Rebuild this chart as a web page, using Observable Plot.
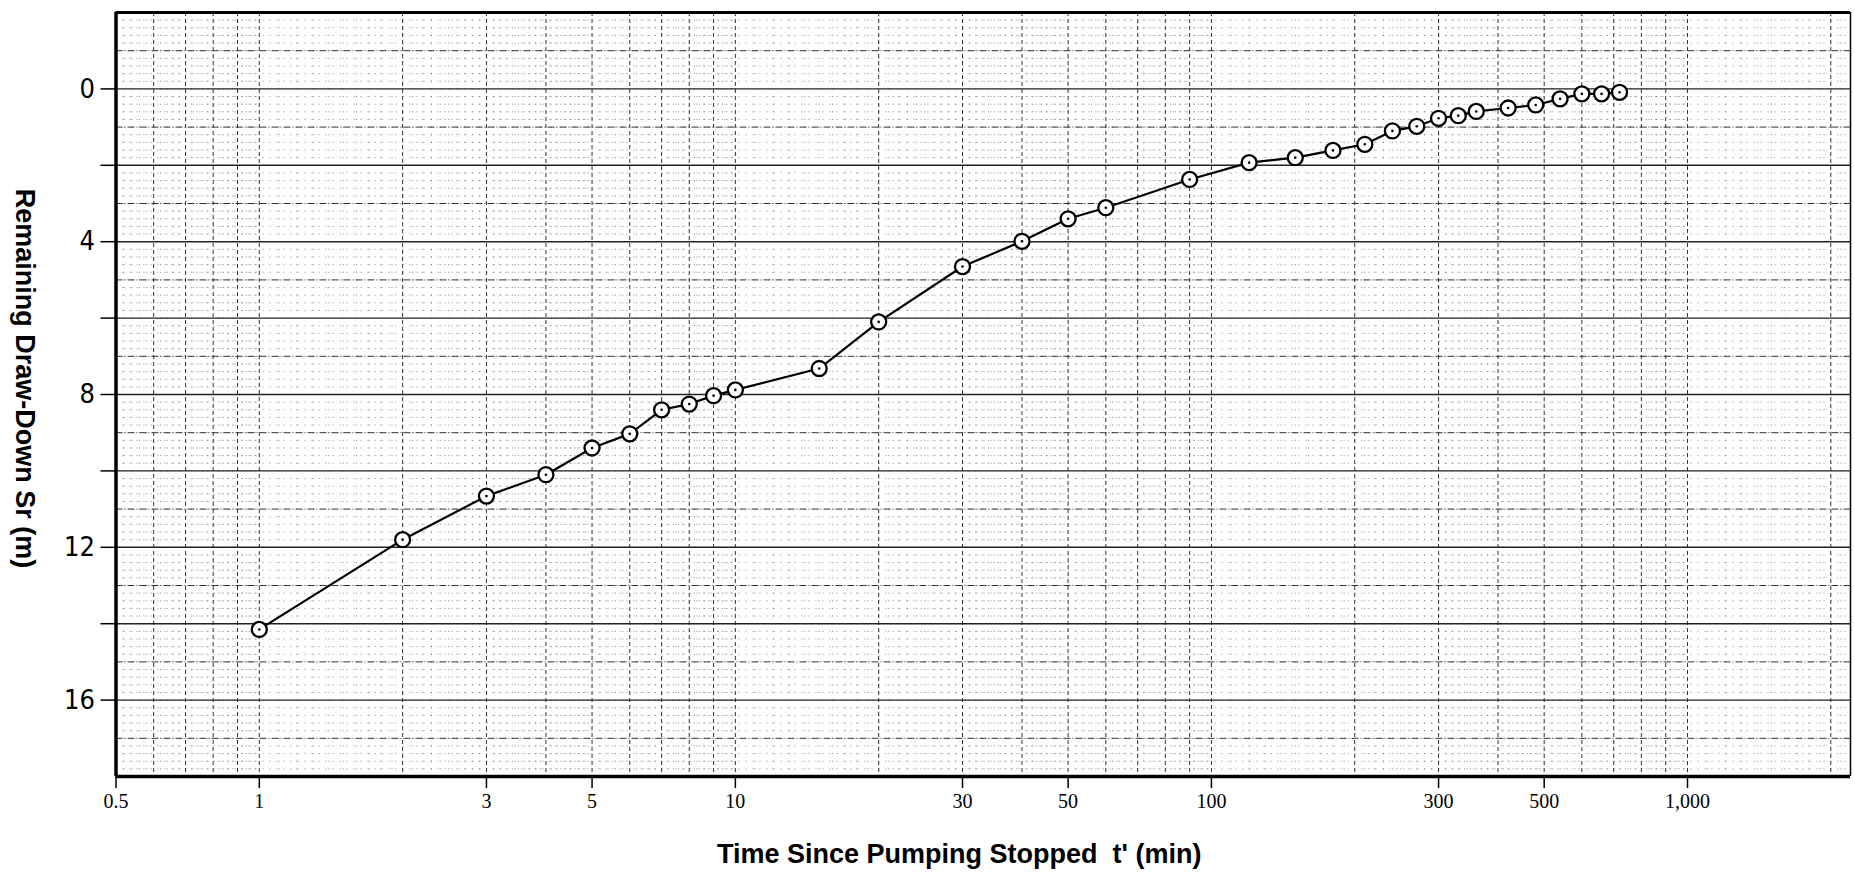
<!DOCTYPE html>
<html><head><meta charset="utf-8">
<script src="https://cdn.jsdelivr.net/npm/d3@7"></script>
<script src="https://cdn.jsdelivr.net/npm/@observablehq/plot@0.6"></script>
<style>
html,body{margin:0;padding:0;background:#fff;}
#chart{width:1855px;height:875px;overflow:hidden;}
</style></head><body><div id="chart"></div>
<script>
// Time since pumping stopped t' (min)
const timeMin = [1,2,3,4,5,6,7,8,9,10,15,20,30,40,50,60,90,120,150,180,210,240,270,300,330,360,420,480,540,600,660,720];
// Remaining draw-down Sr (m)
const drawdown = [14.15,11.8,10.66,10.1,9.4,9.03,8.4,8.25,8.03,7.88,7.32,6.1,4.65,3.99,3.4,3.11,2.37,1.93,1.8,1.61,1.45,1.1,0.98,0.77,0.7,0.59,0.5,0.42,0.26,0.13,0.13,0.09];
const xTickValues = [0.5,1,3,5,10,30,50,100,300,500,1000];
const yTickValues = [0,2,4,6,8,10,12,14,16];
const yLabelValues = [0,4,8,12,16];
const xTitle = "Time Since Pumping Stopped\u00a0\u00a0t' (min)";
const yTitle = "Remaining Draw-Down Sr (m)";

const data = timeMin.map((t, i) => ({t, s: drawdown[i]}));

const X0 = 0.5, X1 = 2200, Y0 = -2, Y1 = 18;

// semi-log paper grid
const vMajor = [], vMinor = [];
for (const d of [0.1, 1, 10, 100, 1000]) {
  for (let n = 1; n <= 9; n++) { const v = n * d; if (v > X0 + 1e-9 && v < X1) vMajor.push(v); }
  for (let m = 11; m < 100; m++) {
    if (m % 10 === 0) continue;
    if (m >= 50 && m % 2) continue;
    const v = m / 10 * d; if (v > X0 + 1e-9 && v < X1) vMinor.push(v);
  }
}
const hEven = d3.range(0, 17, 2);
const hOdd = d3.range(-1, 18, 2);
const hMinor = d3.range(-10, 90).filter(i => i % 5 !== 0).map(i => i / 5);

const serif = "'Liberation Serif', 'Times New Roman', serif";
const sans = "'Liberation Sans', Arial, sans-serif";
const narrow = "'Liberation Sans Narrow', 'DejaVu Sans Condensed', 'Liberation Sans', sans-serif";

const chart = Plot.plot({
  width: 1855,
  height: 875,
  marginLeft: 115.5,
  marginRight: 5,
  marginTop: 12,
  marginBottom: 99,
  style: {background: "#fff", color: "#000", overflow: "visible"},
  x: {type: "log", domain: [X0, X1], axis: null},
  y: {domain: [Y0, Y1], reverse: true, axis: null},
  marks: [
    Plot.ruleY(hMinor, {stroke: "#333", strokeWidth: 1, strokeDasharray: "1,6", strokeOpacity: 0.55}),
    Plot.ruleX(vMinor, {stroke: "#333", strokeWidth: 1, strokeDasharray: "1,6.64", strokeOpacity: 0.6}),
    Plot.ruleX(vMajor, {stroke: "#333", strokeWidth: 1, strokeDasharray: "4,3"}),
    Plot.ruleY(hOdd, {stroke: "#333", strokeWidth: 1, strokeDasharray: "7,2,1,2"}),
    Plot.ruleY(hEven, {stroke: "#222", strokeWidth: 1.4}),
    // frame
    Plot.ruleX([X0], {stroke: "#000", strokeWidth: 3.5}),
    Plot.ruleY([Y1], {stroke: "#000", strokeWidth: 3.5}),
    Plot.ruleY([Y0], {stroke: "#000", strokeWidth: 2.8}),
    Plot.ruleX([X1], {stroke: "#000", strokeWidth: 1.5}),
    Plot.axisX(xTickValues, {tickFormat: d3.format(","), tickSize: 12, tickPadding: 5,
      fontSize: 20, fontFamily: serif, stroke: "#000", strokeWidth: 1.5, label: null}),
    Plot.axisY(yTickValues, {tickFormat: d => yLabelValues.includes(d) ? String(d) : "",
      tickSize: 15, tickPadding: 6, fontSize: 27, fontFamily: narrow, stroke: "#000", strokeWidth: 1.5, label: null}),
    Plot.line(data, {x: "t", y: "s", stroke: "#000", strokeWidth: 2.2}),
    Plot.dot(data, {x: "t", y: "s", r: 7.5, stroke: "#000", strokeWidth: 2.3, fill: "#fff"}),
    Plot.dot(data, {x: "t", y: "s", r: 1.3, fill: "#000"}),
    Plot.text([xTitle], {text: d => d, frameAnchor: "bottom", dx: -24, dy: 78, fontSize: 27,
      fontWeight: "bold", fontFamily: sans, textAnchor: "middle", lineAnchor: "middle", fill: "#000"}),
    Plot.text([yTitle], {text: d => d, frameAnchor: "left", dx: -91.5, dy: -16, rotate: 90, fontSize: 27,
      fontWeight: "bold", fontFamily: sans, textAnchor: "middle", lineAnchor: "middle", fill: "#000"})
  ]
});
document.getElementById("chart").appendChild(chart);
</script></body></html>
